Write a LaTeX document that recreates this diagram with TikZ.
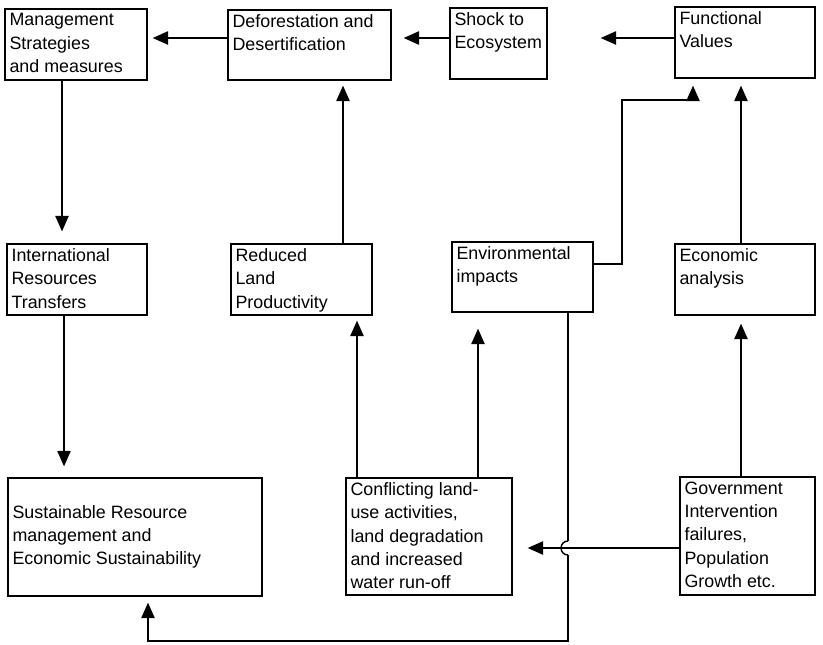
\documentclass[tikz,border=0pt]{standalone}
\usepackage{fontspec}
\setmainfont{Liberation Sans}
\usetikzlibrary{arrows.meta}

\begin{document}
\begin{tikzpicture}[x=0.025cm, y=-0.025cm,
    box/.style={draw, line width=0.9pt, inner sep=0pt},
    txt/.style={align=left, inner xsep=3.5pt, inner ysep=3.5pt, font=\fontsize{12.7}{16.6}\selectfont},
    wire/.style={line width=1pt},
    conn/.style={wire, -{Triangle[length=11pt,width=9.5pt]}}]
    \useasboundingbox (0,0) rectangle (823,645);

    %---------------------------------------------------------------%
    \node[box, minimum width=3.55cm,  minimum height=1.775cm] (mgmt)    at (76,44.5)    {};
    \node[box, minimum width=4.075cm, minimum height=1.75cm]  (defor)   at (309.5,45)   {};
    \node[box, minimum width=2.425cm, minimum height=1.775cm] (shock)   at (498.5,43.5) {};
    \node[box, minimum width=3.5cm,   minimum height=1.775cm] (func)    at (745,42.5)   {};
    \node[txt, anchor=north west] (mgmt-t)  at (mgmt.north west)  {Management\\Strategies\\and measures};
    \node[txt, anchor=north west] (defor-t) at (defor.north west) {Deforestation and\\Desertification};
    \node[txt, anchor=north west] (shock-t) at (shock.north west) {Shock to\\Ecosystem};
    \node[txt, anchor=north west] (func-t)  at (func.north west)  {Functional\\Values};
    %---------------------------------------------------------------%
    \node[box, minimum width=3.5cm,   minimum height=1.775cm] (intl)    at (77,279.5)   {};
    \node[box, minimum width=3.525cm, minimum height=1.775cm] (reduced) at (301.5,279.5) {};
    \node[box, minimum width=3.525cm, minimum height=1.75cm]  (env)     at (522.5,277)  {};
    \node[box, minimum width=3.5cm,   minimum height=1.775cm] (econ)    at (745,279.5)  {};
    \node[txt, anchor=north west] (intl-t)    at (intl.north west)    {International\\Resources\\Transfers};
    \node[txt, anchor=north west] (reduced-t) at (reduced.north west) {Reduced\\Land\\Productivity};
    \node[txt, anchor=north west] (env-t)     at (env.north west)     {Environmental\\impacts};
    \node[txt, anchor=north west] (econ-t)    at (econ.north west)    {Economic\\analysis};
    %---------------------------------------------------------------%
    \node[box, minimum width=6.35cm,  minimum height=2.95cm]  (sust)    at (135,537)    {};
    \node[box, minimum width=4.15cm,  minimum height=2.925cm] (confl)   at (429,536.5)  {};
    \node[box, minimum width=3.375cm, minimum height=2.95cm]  (govt)    at (747.5,536)  {};
    \node[txt, anchor=west]       (sust-t)  at (sust.west)        {Sustainable Resource\\management and\\Economic Sustainability};
    \node[txt, anchor=north west] (confl-t) at (confl.north west) {Conflicting land-\\use activities,\\land degradation\\and increased\\water run-off};
    \node[txt, anchor=north west] (govt-t)  at (govt.north west)  {Government\\Intervention\\failures,\\Population\\Growth etc.};

    %---------------------------------------------------------------%
    \draw[conn, shorten >=0.125cm] (defor.west |- 0,38) -- (mgmt.east |- 0,38);
    \draw[conn, shorten >=0.3cm]   (shock.west |- 0,38) -- (defor.east |- 0,38);
    \draw[conn, shorten >=1.325cm] (func.west |- 0,38)  -- (shock.east |- 0,38);
    \draw[conn, shorten >=0.3cm]   (mgmt.south -| 62,0) -- (intl.north -| 62,0);
    \draw[conn, shorten >=0.275cm] (intl.south -| 64,0) -- (sust.north -| 64,0);
    \draw[conn, shorten >=0.125cm] (reduced.north -| 343,0) -- (defor.south -| 343,0);
    \draw[conn, shorten >=0.125cm] (confl.north -| 357,0)   -- (reduced.south -| 357,0);
    \draw[conn, shorten >=0.4cm]   (confl.north -| 478,0)   -- (env.south -| 478,0);
    \draw[conn, shorten >=0.175cm] (env.east |- 0,264) -| (622,100) -| (func.south -| 693,0);
    \draw[conn, shorten >=0.175cm] (econ.north -| 741,0) -- (func.south -| 741,0);
    \draw[conn, shorten >=0.2cm]   (govt.north -| 741,0) -- (econ.south -| 741,0);
    \draw[conn, shorten >=0.375cm] (govt.west |- 0,548)  -- (confl.east |- 0,548);
    % hop over the Government line
    \coordinate (hop-top) at (568,541);
    \coordinate (hop-bot) at (568,555);
    \draw[wire] (env.south -| 568,0) -- (hop-top);
    \draw[wire] (hop-top) arc[start angle=90, end angle=270, radius=0.175cm];
    \draw[conn, shorten >=0.15cm] (hop-bot) -- (568,641) -| (sust.south -| 148,0);
\end{tikzpicture}
\end{document}
